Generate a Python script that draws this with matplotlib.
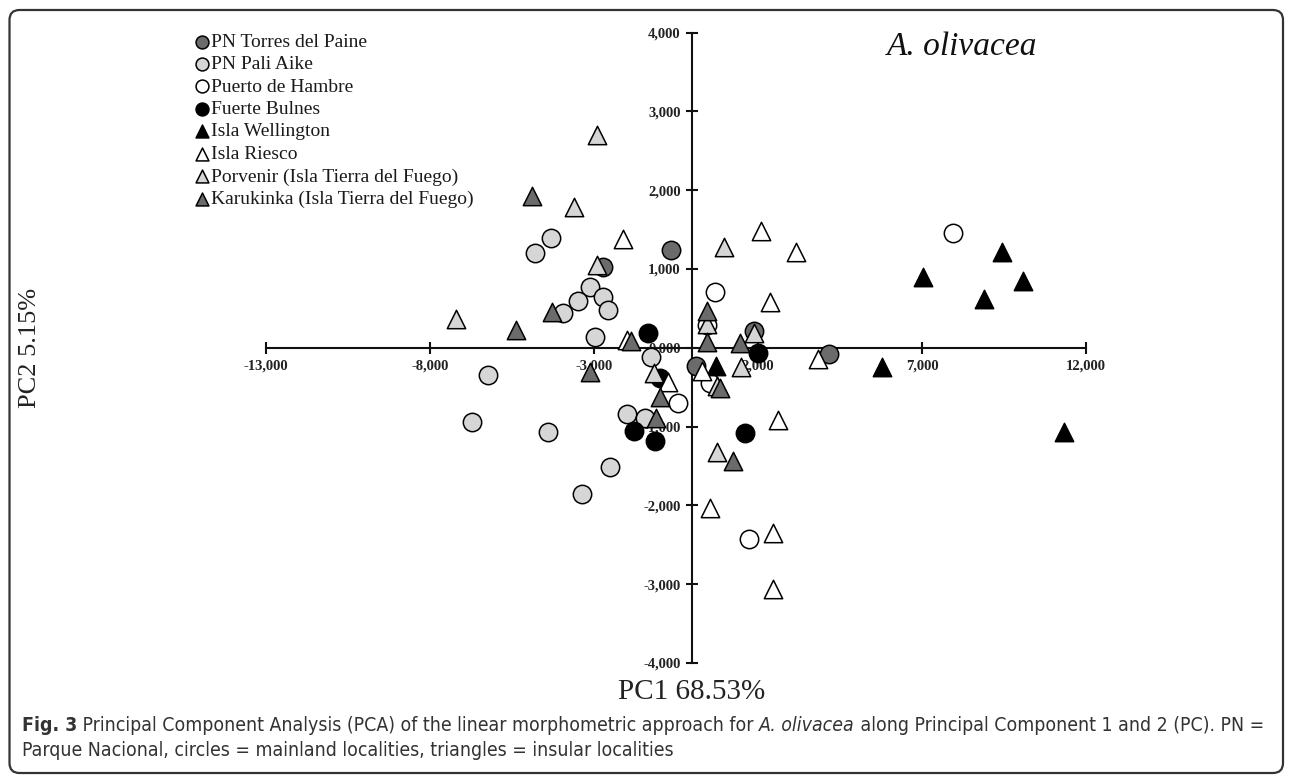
import matplotlib.pyplot as plt
import numpy as np
from matplotlib import font_manager
from matplotlib.patches import FancyBboxPatch
from matplotlib.ticker import FuncFormatter

# PCA scores (PC1, PC2)
torres_x = [-2716, -652, 1887, 4165, 110]
torres_y = [1020, 1240, 216, -80, -232]

pali_x = [-4311, -4799, -3122, -3479, -2716, -2564, -3936, -2970, -1271, -2003, -1445, -4393, -6729, -6223, -2512, -3375]
pali_y = [1396, 1206, 774, 593, 640, 478, 437, 140, -114, -841, -896, -1066, -939, -346, -1510, -1857]

hambre_x = [7936, 689, 436, -439, 537, 1735]
hambre_y = [1452, 707, 288, -706, -448, -2431]

bulnes_x = [-1345, 2009, -988, -1771, -1140, 1604]
bulnes_y = [183, -63, -388, -1053, -1184, -1086]

wellington_x = [9430, 7021, 10088, 8890, 5790, 11329, 720]
wellington_y = [1218, 893, 846, 614, -241, -1066, -226]

riesco_x = [-2125, 2082, 3159, 2366, 3838, 284, -735, 2610, 537, 2466, 2448, -2003]
riesco_y = [1376, 1485, 1218, 584, -147, -289, -435, -911, -2038, -2348, -3066, 98]

porvenir_x = [-2918, -3601, 973, -2918, -7216, 436, 1887, 1482, -1171, 741, 750]
porvenir_y = [2699, 1789, 1274, 1049, 364, 297, 187, -241, -325, -480, -1324]

karukinka_x = [-4881, -4290, -5378, -1872, -3122, -988, -1110, 436, 436, 1451, 841, 1238]
karukinka_y = [1925, 457, 225, 89, -308, -622, -886, 466, 72, 56, -511, -1438]

groups = [
    ("PN Torres del Paine", torres_x, torres_y, "o", "#6b6b6b"),
    ("PN Pali Aike", pali_x, pali_y, "o", "#d6d6d6"),
    ("Puerto de Hambre", hambre_x, hambre_y, "o", "white"),
    ("Fuerte Bulnes", bulnes_x, bulnes_y, "o", "black"),
    ("Isla Wellington", wellington_x, wellington_y, "^", "black"),
    ("Isla Riesco", riesco_x, riesco_y, "^", "white"),
    ("Porvenir (Isla Tierra del Fuego)", porvenir_x, porvenir_y, "^", "#d6d6d6"),
    ("Karukinka (Isla Tierra del Fuego)", karukinka_x, karukinka_y, "^", "#6b6b6b"),
]

x_ticks = [-13000, -8000, -3000, 2000, 7000, 12000]
y_ticks = [-4000, -3000, -2000, -1000, 0, 1000, 2000, 3000, 4000]

serif = "Liberation Serif"

W, H = 1293, 776
fig = plt.figure(figsize=(W / 100, H / 100), dpi=100)
ax = fig.add_axes([266 / W, 1 - 663 / H, 820 / W, 630.4 / H])

for label, xs, ys, m, c in groups:
    ax.scatter(xs, ys, marker=m, s=175, c=c, edgecolors="black", linewidths=1.1,
               label=label, zorder=3)

ax.set_xlim(-13000, 12000)
ax.set_ylim(-4000, 4000)
ax.spines["left"].set_position(("data", 0))
ax.spines["bottom"].set_position(("data", 0))
ax.spines["top"].set_visible(False)
ax.spines["right"].set_visible(False)
for sp in ["left", "bottom"]:
    ax.spines[sp].set_linewidth(1.5)
    ax.spines[sp].set_color("#111111")
ax.patch.set_visible(False)


def thousands(v, pos):
    v = int(round(v))
    s = f"{abs(v) // 1000},{abs(v) % 1000:03d}"
    return "-" + s if v < 0 else s


ax.set_xticks(x_ticks)
ax.set_yticks(y_ticks)
ax.xaxis.set_major_formatter(FuncFormatter(thousands))
ax.yaxis.set_major_formatter(FuncFormatter(thousands))
ax.tick_params(direction="inout", length=9, width=1.5, color="#111111", labelsize=10.5)
ax.tick_params(axis="x", pad=4)
ax.tick_params(axis="y", pad=4)
for t in ax.get_xticklabels() + ax.get_yticklabels():
    t.set_fontfamily(serif)
    t.set_fontweight("bold")
    t.set_color("#222222")

fig.text(962 / W, 1 - 47 / H, "A. olivacea", ha="center", va="center",
         fontsize=24, style="italic", family=serif, color="#111111")
fig.text(30 / W, 1 - 348 / H, "PC2 5.15%", rotation=90, ha="center", va="center",
         fontsize=19, family=serif, color="#222222")
fig.text(692 / W, 1 - 692 / H, "PC1 68.53%", ha="center", va="center",
         fontsize=21, family=serif, color="#222222")

leg = ax.legend(loc="upper left", bbox_to_anchor=(196 / W, 1 - 33 / H),
                bbox_transform=fig.transFigure, frameon=False, markerscale=0.7,
                prop={"family": serif, "size": 14}, handlelength=0.6,
                handletextpad=0.15, labelspacing=0.25, borderpad=0, borderaxespad=0)
for t in leg.get_texts():
    t.set_color("#1a1a1a")

# caption with bold / italic parts, condensed to fit the line width
renderer = fig.canvas.get_renderer()
cap_font = {"family": "DejaVu Sans", "stretch": "condensed"}
line1 = [("Fig. 3", {"weight": "bold"}),
         (" Principal Component Analysis (PCA) of the linear morphometric approach for ", {}),
         ("A. olivacea", {"style": "italic"}),
         (" along Principal Component 1 and 2 (PC). PN =", {})]
line2 = [("Parque Nacional, circles = mainland localities, triangles = insular localities", {})]


def rich(x, y, parts, size, draw=True):
    x0 = x
    for s, kw in parts:
        t = fig.text(x, y, s, transform=None, va="baseline", fontsize=size,
                     color="#333333", **cap_font, **kw)
        x += t.get_window_extent(renderer).width
        if not draw:
            t.remove()
    return x - x0


cap_size = 14.5
w = rich(22, 0, line1, cap_size, draw=False)
if w > 1235:
    cap_size = cap_size * 1235 / w
rich(22, H - 731, line1, cap_size)
rich(22, H - 756, line2, cap_size)

frame = FancyBboxPatch((9.5, 3), 1283 - 9.5, H - 10 - 3, boxstyle="round,pad=0,rounding_size=10",
                       transform=None, fill=False, edgecolor="#333333", linewidth=1.6)
fig.patches.append(frame)

fig.savefig("out.png", dpi=100)
